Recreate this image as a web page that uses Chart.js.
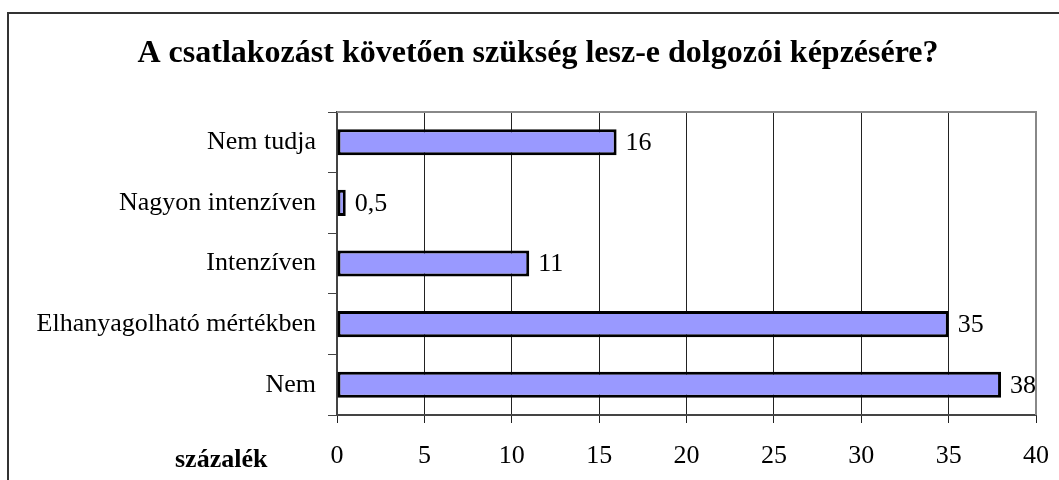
<!DOCTYPE html>
<html>
<head>
<meta charset="utf-8">
<script src="https://cdn.jsdelivr.net/npm/chart.js@4.4.1/dist/chart.umd.min.js"></script>
<style>
  html, body { margin: 0; padding: 0; background: #fff; overflow: hidden; }
  #wrap { position: relative; width: 1059px; height: 480px; }
  #frame {
    position: absolute; left: 7px; top: 12px; width: 1100px; height: 520px;
    border-top: 2px solid #333; border-left: 2px solid #333;
    pointer-events: none;
  }
</style>
</head>
<body>
<div id="wrap">
  <canvas id="surveyChart" width="1059" height="480"></canvas>
  <div id="frame"></div>
</div>
<script>
const chartTitle = "A csatlakozást követően szükség lesz-e dolgozói képzésére?";
const axisLabel = "százalék";
const categories = ["Nem tudja", "Nagyon intenzíven", "Intenzíven", "Elhanyagolható mértékben", "Nem"];
const percentValues = [16, 0.5, 11, 35, 38];
const xMin = 0;
const xMax = 40;
const xStep = 5;

const serif = "'Liberation Serif', 'Times New Roman', serif";

// title, "százalék" caption and the light frame round the plot area
const decorPlugin = {
  id: 'decor',
  beforeDraw(chart) {
    const ctx = chart.ctx;
    ctx.save();
    ctx.fillStyle = '#fff';
    ctx.fillRect(0, 0, chart.width, chart.height);
    ctx.restore();
  },
  afterDraw(chart) {
    const ctx = chart.ctx;
    const area = chart.chartArea;
    ctx.save();
    ctx.strokeStyle = '#888';
    ctx.lineWidth = 2;
    ctx.beginPath();
    ctx.moveTo(area.left, area.top);
    ctx.lineTo(area.right, area.top);
    ctx.lineTo(area.right, area.bottom);
    ctx.stroke();

    ctx.fillStyle = '#000';
    ctx.textBaseline = 'alphabetic';
    ctx.font = "bold 32px " + serif;
    ctx.textAlign = 'center';
    ctx.fillText(chartTitle, 538, 62);

    ctx.font = "bold 26px " + serif;
    ctx.textAlign = 'left';
    ctx.fillText(axisLabel, 175, 467);
    ctx.restore();
  }
};

// value printed just right of each bar, with a decimal comma
const valueLabelPlugin = {
  id: 'valueLabels',
  afterDatasetsDraw(chart) {
    const ctx = chart.ctx;
    const meta = chart.getDatasetMeta(0);
    ctx.save();
    ctx.font = "26px " + serif;
    ctx.fillStyle = '#000';
    ctx.textAlign = 'left';
    ctx.textBaseline = 'middle';
    meta.data.forEach((bar, i) => {
      const txt = String(percentValues[i]).replace('.', ',');
      ctx.fillText(txt, bar.x + 9, bar.y + 1);
    });
    ctx.restore();
  }
};

new Chart(document.getElementById('surveyChart'), {
  type: 'bar',
  data: {
    labels: categories,
    datasets: [{
      data: percentValues,
      backgroundColor: '#9999FF',
      borderColor: '#000',
      borderWidth: 3,
      borderSkipped: false,
      categoryPercentage: 1,
      barPercentage: 0.43
    }]
  },
  options: {
    indexAxis: 'y',
    responsive: false,
    animation: false,
    devicePixelRatio: 1,
    layout: { padding: { top: 112, right: 23, bottom: 0, left: 0 } },
    plugins: {
      legend: { display: false },
      title: { display: false },
      tooltip: { enabled: false }
    },
    scales: {
      x: {
        min: xMin,
        max: xMax,
        afterFit(axis) {
          axis.height = 65;
          axis.paddingLeft = 0;
          axis.paddingRight = 0;
        },
        ticks: {
          stepSize: xStep,
          padding: 18,
          color: '#000',
          font: { family: serif, size: 26 }
        },
        grid: { color: '#222', lineWidth: 1, drawTicks: true, tickLength: 8 },
        border: { color: '#444', width: 2 }
      },
      y: {
        afterFit(axis) {
          axis.width = 337;
          axis.paddingTop = 0;
          axis.paddingBottom = 0;
        },
        ticks: {
          padding: 12,
          color: '#000',
          font: { family: serif, size: 26 }
        },
        grid: { drawOnChartArea: false, drawTicks: true, tickLength: 9, color: '#444', offset: true },
        border: { color: '#444', width: 2 }
      }
    }
  },
  plugins: [decorPlugin, valueLabelPlugin]
});
</script>
</body>
</html>
